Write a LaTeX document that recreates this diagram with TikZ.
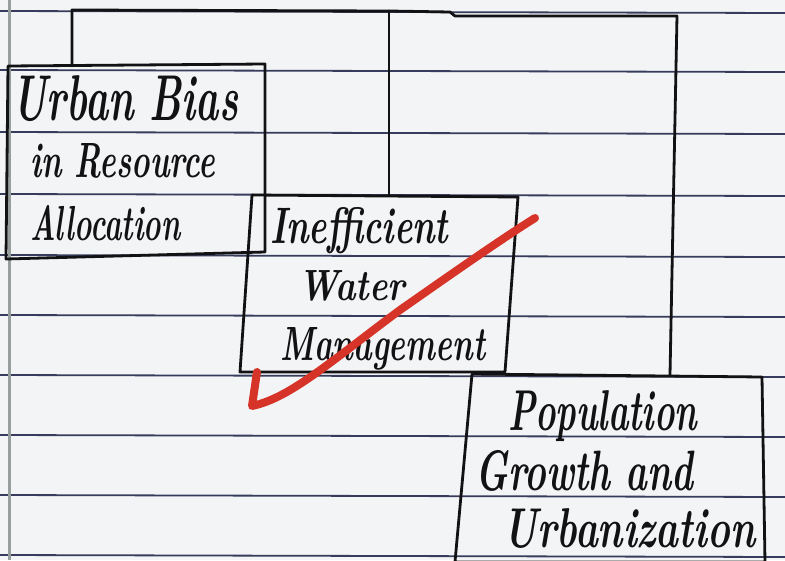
\documentclass[tikz,border=0pt]{standalone}
\usepackage{graphicx}
\definecolor{paper}{RGB}{243,244,246}
\definecolor{rule}{RGB}{55,60,92}
\definecolor{margin}{RGB}{150,158,158}
\definecolor{ink}{RGB}{18,18,20}
\definecolor{redpen}{RGB}{214,52,40}
\tikzset{
  ruled/.style={draw=rule, line width=1.8pt},
  boxline/.style={draw=ink, line width=2.8pt, line join=round, line cap=round},
  conn/.style={draw=ink, line width=2.8pt, line cap=round, line join=round},
  hand/.style={inner sep=0pt, anchor=base west, text=ink},
  check/.style={draw=redpen, line width=8pt, line cap=round, line join=round}
}
\newcommand{\hw}[3]{\resizebox{#1pt}{#2pt}{\bfseries\itshape #3}}
\begin{document}
\begin{tikzpicture}[x=1pt,y=-1pt]
\useasboundingbox (0,0) rectangle (785,560);
\fill[paper] (0,0) rectangle (785,560);
% ruled lines
\foreach \y in {11,70,132,194,255,315,375,435,495,555}
  \draw[ruled] (0,\y) -- (785,\y+2);
\draw[margin, line width=3pt] (9,0) -- (9,560);

% box corners
\coordinate (b1nw) at (8,66);   \coordinate (b1ne) at (265,64);
\coordinate (b1se) at (265,252); \coordinate (b1sw) at (6,259);
\coordinate (b2nw) at (252,195); \coordinate (b2ne) at (518,197);
\coordinate (b2se) at (505,372); \coordinate (b2sw) at (240,372);
\coordinate (b3nw) at (472,374); \coordinate (b3ne) at (762,377);
\coordinate (b3se) at (765,562); \coordinate (b3sw) at (455,562);

\draw[boxline] (b1nw) -- (b1ne) -- (b1se) -- (b1sw) -- cycle;
\draw[boxline] (b2nw) -- (b2ne) -- (b2se) -- (b2sw) -- cycle;
\draw[boxline] (b3nw) -- (b3ne) -- (b3se) -- (b3sw) -- cycle;

% connectors
\coordinate (t1) at (72,10);
\coordinate (t2) at (389,11);
\coordinate (tm1) at (450,12);
\coordinate (tm2) at (455,16);
\coordinate (t3) at (677,16);
\coordinate (b3top) at (670,375);
\draw[conn] (t1 |- b1nw) -- (t1) -- (t2) -- (tm1) -- (tm2) -- (t3) -- (b3top);
\draw[conn] (t2) -- (389,195);

% text
\node[hand] (u1) at (12,120) {\hw{226}{45}{Urban Bias}};
\node[hand] (u2) at (30,177) {\hw{185}{34}{in Resource}};
\node[hand] (u3) at (30,240) {\hw{150}{35}{Allocation}};
\node[hand] (w1) at (270,243) {\hw{178}{36}{Inefficient}};
\node[hand] (w2) at (298,300) {\hw{107}{30}{Water}};
\node[hand] (w3) at (280,360) {\hw{205}{33}{Management}};
\node[hand] (p1) at (508,430) {\hw{189}{40}{Population}};
\node[hand] (p2) at (475,490) {\hw{218}{40}{Growth and}};
\node[hand] (p3) at (503,547) {\hw{252}{39}{Urbanization}};

% red check
\coordinate (r0) at (257,372);
\coordinate (r1) at (252,406);
\coordinate (r2) at (400,310);
\coordinate (r3) at (535,218);
\draw[check] (r0) -- (r1) .. controls (290,398) and (330,362) .. (r2) .. controls (450,275) and (500,240) .. (r3);
\end{tikzpicture}
\end{document}
